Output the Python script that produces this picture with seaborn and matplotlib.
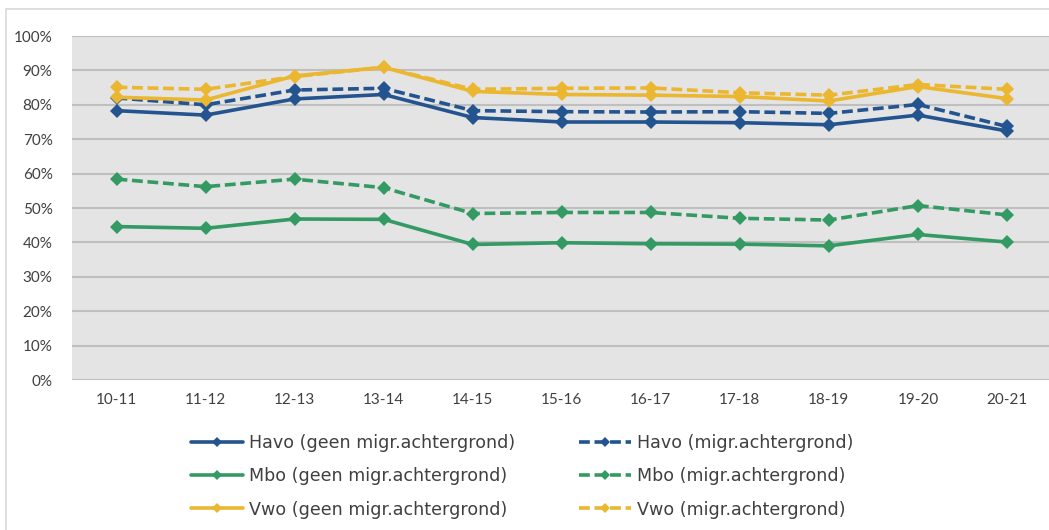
import matplotlib
matplotlib.use('Agg')
import matplotlib.pyplot as plt
from matplotlib.patches import Rectangle
from matplotlib.lines import Line2D
import numpy as np
import pandas as pd
import seaborn as sns

YEARS = ['10-11', '11-12', '12-13', '13-14', '14-15', '15-16',
         '16-17', '17-18', '18-19', '19-20', '20-21']

havo_geen = [78.3, 77.0, 81.7, 83.0, 76.3, 75.0, 75.0, 74.8, 74.2, 77.0, 72.4]
mbo_geen = [44.6, 44.1, 46.8, 46.7, 39.4, 39.9, 39.6, 39.5, 39.0, 42.3, 40.1]
vwo_geen = [82.2, 81.4, 88.4, 90.9, 83.9, 83.0, 82.8, 82.4, 81.1, 85.3, 81.8]
havo_migr = [82.0, 80.0, 84.3, 84.8, 78.3, 78.0, 77.9, 78.0, 77.5, 80.1, 73.7]
mbo_migr = [58.4, 56.2, 58.4, 55.9, 48.4, 48.7, 48.7, 47.0, 46.5, 50.7, 48.0]
vwo_migr = [85.1, 84.5, 88.2, 90.9, 84.5, 84.8, 84.9, 83.5, 82.8, 85.9, 84.5]

LABELS = ['Havo (geen migr.achtergrond)', 'Mbo (geen migr.achtergrond)',
          'Vwo (geen migr.achtergrond)', 'Havo (migr.achtergrond)',
          'Mbo (migr.achtergrond)', 'Vwo (migr.achtergrond)']
SERIES = [havo_geen, mbo_geen, vwo_geen, havo_migr, mbo_migr, vwo_migr]

BLUE = '#23548f'
GREEN = '#349a64'
YELLOW = '#ebb630'
COLORS = [BLUE, GREEN, YELLOW, BLUE, GREEN, YELLOW]
DASH = (3, 1.3)

sns.set_theme(style='white')
plt.rcParams['font.family'] = ['Lato', 'DejaVu Sans']

fig = plt.figure(figsize=(10.49, 5.30), dpi=100)
fig.patches.append(Rectangle((6 / 1049, -0.1), 1.2, 1 - 9 / 530 + 0.1,
                             transform=fig.transFigure, fill=False,
                             edgecolor='#d9d9d9', linewidth=1.2))

ax = fig.add_axes([72 / 1049, 150 / 530, 979.5 / 1049, 344 / 530])
ax.set_facecolor('#e4e4e4')

x = np.arange(len(YEARS))
order = [3, 0, 4, 1, 5, 2]
for i in order:
    df = pd.DataFrame({'x': x, 'y': SERIES[i]})
    sns.lineplot(data=df, x='x', y='y', ax=ax, color=COLORS[i],
                 linewidth=2.6, marker='D', markersize=7.5,
                 markeredgewidth=0, dashes=DASH if i >= 3 else '',
                 legend=False)

ax.set_xlim(-0.5, len(YEARS) - 0.5)
ax.set_ylim(0, 100)
ax.set_yticks(np.arange(0, 101, 10))
ax.set_yticklabels([f'{v}%' for v in range(0, 101, 10)])
ax.set_xticks(x)
ax.set_xticklabels(YEARS)
ax.set_xlabel('')
ax.set_ylabel('')
ax.tick_params(axis='both', length=0, labelsize=11, labelcolor='#404040')
ax.tick_params(axis='y', pad=14)
ax.tick_params(axis='x', pad=9)
ax.yaxis.grid(True, color='#bfbfbf', linewidth=1.5)
ax.set_axisbelow(True)
for s in ax.spines.values():
    s.set_visible(False)

leg_handles = []
for i, lab in enumerate(LABELS):
    leg_handles.append(Line2D([], [], color=COLORS[i], linewidth=2.6,
                              linestyle=(0, DASH) if i >= 3 else '-',
                              marker='D', markersize=5, markeredgewidth=0))
fig.legend(leg_handles, LABELS, loc='upper left',
           bbox_to_anchor=(182 / 1049, 1 - 425 / 530), ncol=2,
           frameon=False, borderpad=0, handlelength=3.0,
           prop={'family': ['DejaVu Sans'], 'size': 12.6},
           handletextpad=0.35, columnspacing=3.6, labelspacing=0.88,
           labelcolor='#404040')

fig.savefig('out.png', dpi=100)
